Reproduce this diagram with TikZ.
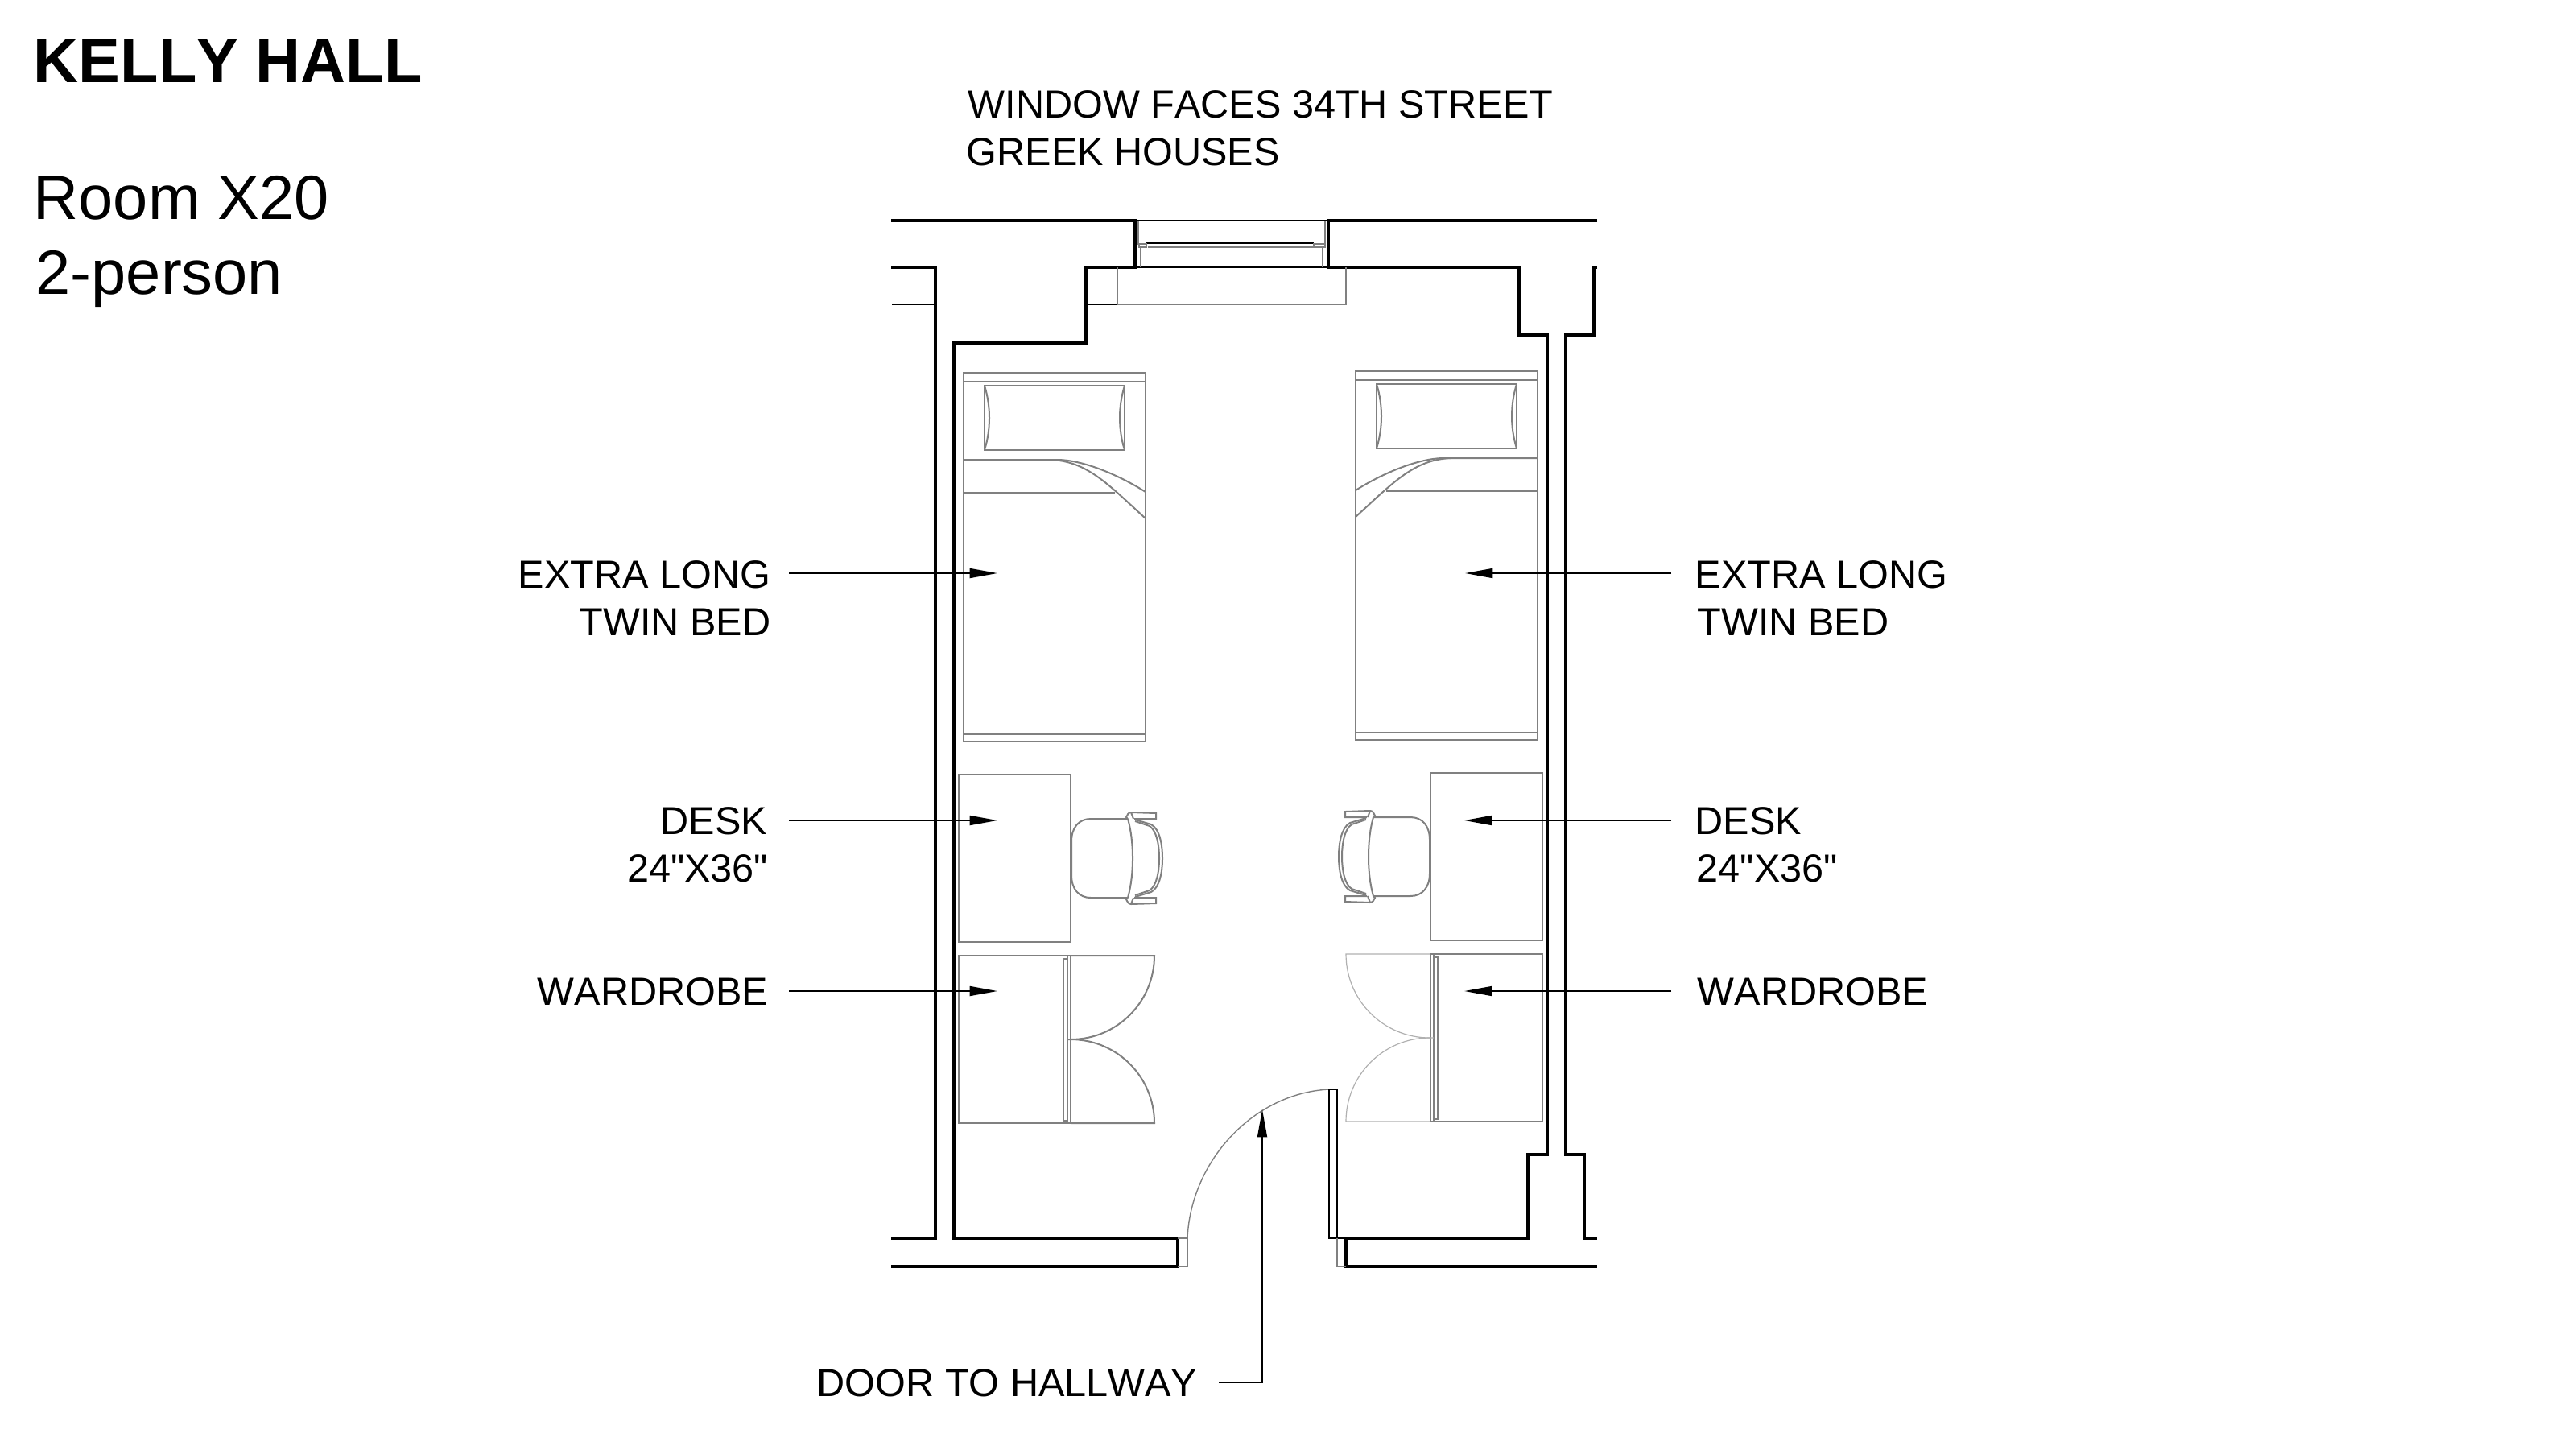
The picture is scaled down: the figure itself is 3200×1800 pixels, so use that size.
\documentclass[tikz,border=0pt]{standalone}
\usepackage{fontspec}
\setmainfont{Liberation Sans}[Kerning=Off]
\newfontfamily\qfont{Liberation Sans}[Kerning=Off]
\usetikzlibrary{arrows.meta}
\definecolor{fur}{HTML}{808080}
\definecolor{lightfur}{HTML}{B0B0B0}
\tikzset{
  wall/.style={line width=1pt,black,line cap=butt,line join=miter},
  furn/.style={line width=0.5pt,fur,line join=miter},
  fine/.style={line width=0.35pt,fur},
  faint/.style={line width=0.3pt,lightfur},
  leaf/.style={line width=0.3pt,black},
  leader/.style={line width=0.45pt,black,-{Triangle[length=8.6pt,width=3pt]}},
  note/.style={inner sep=0pt,font=\fontsize{12.15}{14}\selectfont},
  lnote/.style={note,anchor=base east},
  rnote/.style={note,anchor=base west},
}
\newcommand{\furnitureset}{%
  % bed
  \draw[furn] (1197,463) rectangle (1423,921);
  \draw[furn] (1197,474) -- (1423,474);
  \draw[furn] (1197,912) -- (1423,912);
  \draw[furn] (1223,479) rectangle (1397,559);
  \draw[furn] (1223,479) .. controls (1231,505) and (1231,533) .. (1223,559);
  \draw[furn] (1397,479) .. controls (1389,505) and (1389,533) .. (1397,559);
  \draw[furn] (1197,571) -- (1313,571) .. controls (1345,571) and (1390,590) .. (1423,611);
  \draw[furn] (1305,571) .. controls (1350,573) and (1375,600) .. (1423,644);
  \draw[furn] (1197,612) -- (1385,612);
  % desk
  \draw[furn] (1191,962) rectangle (1330,1170);
  % chair
  \draw[furn] (1401,1017) -- (1355,1017) .. controls (1340,1017) and (1331,1028) .. (1331,1045)
     -- (1331,1087) .. controls (1331,1104) and (1340,1115) .. (1355,1115) -- (1401,1115);
  \draw[furn] (1401,1017) .. controls (1409,1045) and (1409,1087) .. (1401,1115);
  \draw[furn] (1410,1018) -- (1430,1024) .. controls (1441,1030) and (1444,1050) .. (1444,1066)
     .. controls (1444,1082) and (1441,1102) .. (1430,1108) -- (1410,1114);
  \draw[furn] (1410,1020) -- (1428,1026) .. controls (1437,1032) and (1440,1050) .. (1440,1066)
     .. controls (1440,1082) and (1437,1100) .. (1428,1106) -- (1410,1112);
  \draw[furn] (1410,1018) -- (1410,1017) -- (1436,1017) -- (1436,1010) -- (1405,1009) .. controls (1402,1009) and (1400,1012) .. (1399,1015) -- (1401,1017);
  \draw[furn] (1405,1009) -- (1408,1017);
  \draw[furn] (1410,1114) -- (1410,1115) -- (1436,1115) -- (1436,1122) -- (1405,1123) .. controls (1402,1123) and (1400,1120) .. (1399,1117) -- (1401,1115);
  \draw[furn] (1405,1123) -- (1408,1115);
  % wardrobe
  \draw[furn] (1191,1187) rectangle (1330,1395);
  \draw[furn] (1326,1187) -- (1326,1395);
  \draw[furn] (1326,1191) -- (1321,1191) -- (1321,1392) -- (1326,1392);
}
\begin{document}
\begin{tikzpicture}[x=0.25pt,y=-0.25pt]
\useasboundingbox (0,0) rectangle (3200,1800);
% titles
\node[inner sep=0pt,anchor=base west,font=\fontsize{19.4}{24}\selectfont\bfseries] (title) at (41,102) {KELLY HALL};
\node[inner sep=0pt,anchor=base west,font=\fontsize{19.4}{24}\selectfont] (room) at (41,272) {Room X20};
\node[inner sep=0pt,anchor=base west,font=\fontsize{19.4}{24}\selectfont] (persons) at (44,365) {2-person};
\node[rnote] (win1) at (1202,146) {WINDOW FACES 34TH STREET};
\node[rnote] (win2) at (1200,205) {GREEK HOUSES};
% walls
\draw[wall] (1107,274) -- (1410,274) -- (1410,332) -- (1349,332) -- (1349,426) -- (1185,426) -- (1185,1538) -- (1463,1538) -- (1463,1573) -- (1107,1573);
\draw[wall] (1107,332) -- (1162,332) -- (1162,1538) -- (1107,1538);
\draw[line width=0.7pt] (1108,378) -- (1162,378);
\draw[line width=0.7pt] (1349,378) -- (1388,378);
\draw[wall] (1984,274) -- (1650,274) -- (1650,332) -- (1887,332) -- (1887,416) -- (1922,416) -- (1922,1434) -- (1898,1434) -- (1898,1538) -- (1672,1538) -- (1672,1573) -- (1984,1573);
\draw[wall] (1984,332) -- (1980,332) -- (1980,416) -- (1945,416) -- (1945,1434) -- (1968,1434) -- (1968,1538) -- (1984,1538);
% window
\draw[line width=0.7pt] (1410,274) -- (1650,274);
\draw[line width=0.7pt] (1410,332) -- (1650,332);
\draw[line width=0.6pt] (1424,302) -- (1632,302);
\draw[fine] (1426,307) -- (1632,307);
\draw[fine] (1414,274) -- (1414,303) -- (1424,303) -- (1424,307) -- (1415,307) -- (1415,303);
\draw[fine] (1417,307) -- (1417,332);
\draw[fine] (1646,274) -- (1646,303) -- (1632,303) -- (1632,307) -- (1646,307) -- (1646,303);
\draw[fine] (1643,307) -- (1643,332);
% sill
\draw[fine] (1388,332) -- (1388,378) -- (1672,378) -- (1672,332);
% furniture, left and mirrored right
\furnitureset
\begin{scope}[xshift=776.75pt,yshift=0.5pt,xscale=-1]
\furnitureset
\end{scope}
% wardrobe doors
\draw[furn] (1330,1187) -- (1434,1187) arc[start angle=0,end angle=90,radius=104] -- (1326,1291);
\draw[furn] (1330,1291) arc[start angle=-90,end angle=0,radius=104] -- (1330,1395);
\draw[faint] (1776,1185) -- (1672,1185) arc[start angle=180,end angle=90,radius=104] -- (1781,1289);
\draw[faint] (1776,1289) arc[start angle=-90,end angle=-180,radius=104] -- (1776,1393);
% entry door
\draw[fine] (1463,1538) -- (1475,1538) -- (1475,1573) -- (1463,1573);
\draw[fine] (1475,1538) .. controls (1479,1444) and (1555,1358) .. (1651,1353);
\draw[leaf] (1651,1353) rectangle (1661,1538);
\draw[leaf] (1661,1538) -- (1672,1538);
\draw[fine] (1661,1538) -- (1661,1573) -- (1672,1573);
% labels
\node[lnote] (bedL1) at (958,730) {EXTRA LONG};
\node[lnote] (bedL2) at (958,789) {TWIN BED};
\node[lnote] (deskL1) at (954,1036) {DESK};
\node[lnote] (deskL2) at (955,1095) {\qfont 24"X36"};
\node[lnote] (wardL) at (955,1248) {WARDROBE};
\node[rnote] (bedR1) at (2105,730) {EXTRA LONG};
\node[rnote] (bedR2) at (2108,789) {TWIN BED};
\node[rnote] (deskR1) at (2105,1036) {DESK};
\node[rnote] (deskR2) at (2107,1095) {\qfont 24"X36"};
\node[rnote] (wardR) at (2108,1248) {WARDROBE};
\node[rnote] (doorlab) at (1014,1734) {DOOR TO HALLWAY};
% leaders
\coordinate (a1) at (980,712); \coordinate (t1) at (1239,712);
\coordinate (a2) at (980,1019); \coordinate (t2) at (1239,1019);
\coordinate (a3) at (980,1231); \coordinate (t3) at (1239,1231);
\coordinate (b1) at (2076,712); \coordinate (u1) at (1820,712);
\coordinate (b2) at (2076,1019); \coordinate (u2) at (1819,1019);
\coordinate (b3) at (2076,1231); \coordinate (u3) at (1819,1231);
\coordinate (d0) at (1514,1717); \coordinate (d1) at (1568,1717); \coordinate (d2) at (1568,1378);
\draw[leader] (a1) -- (t1);
\draw[leader] (a2) -- (t2);
\draw[leader] (a3) -- (t3);
\draw[leader] (b1) -- (u1);
\draw[leader] (b2) -- (u2);
\draw[leader] (b3) -- (u3);
\draw[leader] (d0) -- (d1) -- (d2);
\end{tikzpicture}
\end{document}
